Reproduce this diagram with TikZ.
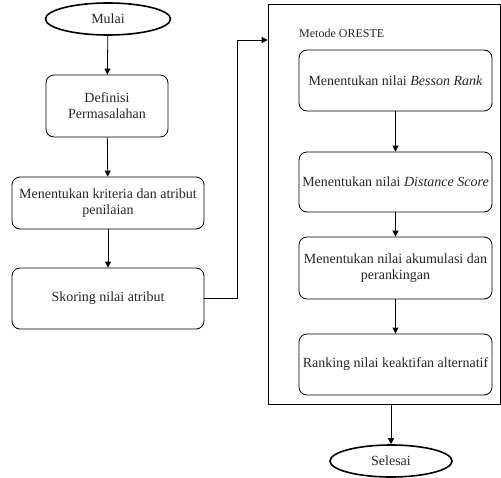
\documentclass[tikz,border=0pt]{standalone}
\usepackage{fontspec}
\setmainfont{Liberation Serif}
\usetikzlibrary{shapes.geometric,arrows.meta}
\begin{document}
\begin{tikzpicture}[x=1pt,y=-1pt,
  every node/.style={font=\fontsize{14}{16}\selectfont, text=black!85},
  proc/.style={draw, rounded corners=8pt, line width=0.8pt, align=center, inner sep=0pt},
  term/.style={draw, ellipse, line width=1.6pt, inner sep=0pt},
  arr/.style={-{Triangle[width=6pt,length=6pt]}, line width=0.8pt}]
\useasboundingbox (0,0) rectangle (501,477);
\node[term, minimum width=125pt, minimum height=32pt] (mulai) at (108,19) {Mulai};
\node[proc, minimum width=122pt, minimum height=62pt] (def) at (107,106) {Definisi\\Permasalahan};
\node[proc, minimum width=192pt, minimum height=52pt] (krit) at (108,203) {Menentukan kriteria dan atribut\\penilaian};
\node[proc, minimum width=192pt, minimum height=61pt] (skor) at (108,298.5) {Skoring nilai atribut};
\node[draw, line width=0.8pt, minimum width=232pt, minimum height=400pt, inner sep=0pt] (big) at (384,204) {};
\node[anchor=west, inner sep=0pt, font=\fontsize{12}{14}\selectfont] (title) at (299,33) {Metode ORESTE};
\node[proc, minimum width=193pt, minimum height=61pt] (b1) at (395.5,80.5) {Menentukan nilai \textit{Besson Rank}};
\node[proc, minimum width=193pt, minimum height=60pt] (b2) at (395.5,182) {Menentukan nilai \textit{Distance Score}};
\node[proc, minimum width=193pt, minimum height=62pt] (b3) at (395.5,268) {Menentukan nilai akumulasi dan\\perankingan};
\node[proc, minimum width=193pt, minimum height=61pt] (b4) at (395.5,364.5) {Ranking nilai keaktifan alternatif};
\node[term, minimum width=122pt, minimum height=32pt] (selesai) at (391,461) {Selesai};
\coordinate (c1) at (237,298.5);
\coordinate (c2) at (237,40);
\draw[arr] (mulai) -- (def);
\draw[arr] (def) -- (krit);
\draw[arr] (krit) -- (skor);
\draw[arr] (skor.east) -- (c1) -- (c2) -- (big.west |- c2);
\draw[arr] (b1) -- (b2);
\draw[arr] (b2) -- (b3);
\draw[arr] (b3) -- (b4);
\draw[arr] (big.south -| selesai) -- (selesai);
\end{tikzpicture}
\end{document}
